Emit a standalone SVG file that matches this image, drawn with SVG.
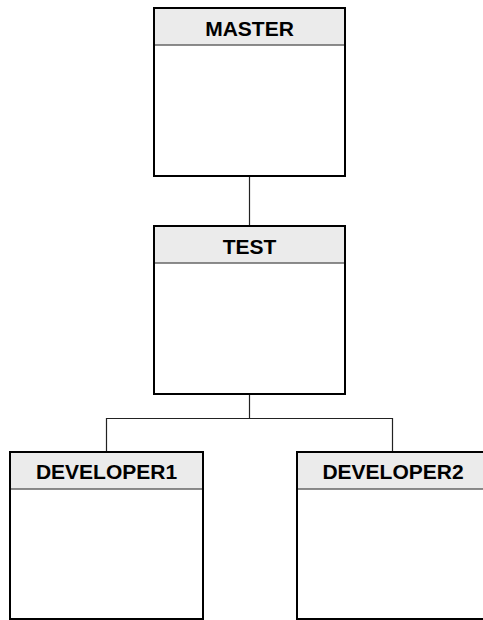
<svg xmlns="http://www.w3.org/2000/svg" width="483" height="620" viewBox="0 0 483 620">
<style>
.box{fill:#ffffff;stroke:#000000;stroke-width:2}
.hdr{fill:#ebebeb;stroke:none}
.div{stroke:#666666;stroke-width:1.5}
.lbl{font-family:"Liberation Sans",Arial,sans-serif;font-weight:bold;font-size:21px;fill:#000000;text-anchor:middle}
.con{fill:none;stroke:#222222;stroke-width:1.2}
</style>
<rect width="483" height="620" fill="#ffffff"/>
<g id="connectors">
<line class="con" x1="249.5" y1="176" x2="249.5" y2="226"/>
<polyline class="con" points="106.5,452 106.5,418.5 392.5,418.5 392.5,452"/>
<line class="con" x1="249.5" y1="394" x2="249.5" y2="418.5"/>
</g>
<g id="master">
<rect class="box" x="154" y="8" width="191" height="168"/>
<rect class="hdr" x="155" y="9" width="189" height="36"/>
<line class="div" x1="155" y1="45" x2="344" y2="45"/>
<text class="lbl" x="249.5" y="36">MASTER</text>
</g>
<g id="test">
<rect class="box" x="154" y="226" width="191" height="168"/>
<rect class="hdr" x="155" y="227" width="189" height="36"/>
<line class="div" x1="155" y1="263" x2="344" y2="263"/>
<text class="lbl" x="249.5" y="254">TEST</text>
</g>
<g id="developer1">
<rect class="box" x="10" y="452" width="193" height="167"/>
<rect class="hdr" x="11" y="453" width="191" height="36"/>
<line class="div" x1="11" y1="489" x2="202" y2="489"/>
<text class="lbl" x="106.5" y="479">DEVELOPER1</text>
</g>
<g id="developer2">
<rect class="box" x="297" y="452" width="192" height="167"/>
<rect class="hdr" x="298" y="453" width="190" height="36"/>
<line class="div" x1="298" y1="489" x2="488" y2="489"/>
<text class="lbl" x="393" y="479">DEVELOPER2</text>
</g>
</svg>
